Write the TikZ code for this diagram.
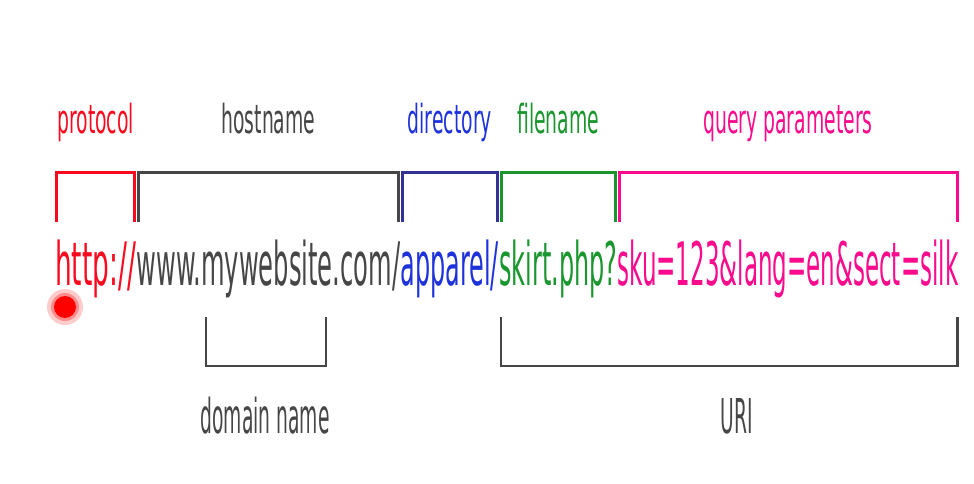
\documentclass[tikz,border=0pt]{standalone}
\usepackage{fontspec}
\usetikzlibrary{positioning}
\newfontfamily\urlfont{DejaVu Sans}[FakeStretch=0.383]
\newfontfamily\protofont{DejaVu Sans}[FakeStretch=0.44]
\newfontfamily\hostfont{DejaVu Sans}[FakeStretch=0.403]
\newfontfamily\pathfont{DejaVu Sans}[FakeStretch=0.398]
\newfontfamily\lblfont{DejaVu Sans}[FakeStretch=0.47]
\newfontfamily\subfont{DejaVu Sans}[FakeStretch=0.39]

\definecolor{protored}{RGB}{250,10,30}
\definecolor{hostgray}{RGB}{70,70,70}
\definecolor{dirblue}{RGB}{30,50,220}
\definecolor{dirnavy}{RGB}{50,50,150}
\definecolor{filegreen}{RGB}{25,150,45}
\definecolor{querypink}{RGB}{250,10,140}

\begin{document}
\begin{tikzpicture}[
    x = 1pt, y = -1pt,
    seg/.style={inner sep=0pt, font=\urlfont\fontsize{60}{60}\selectfont},
    lbl/.style={inner sep=0pt, anchor=base, font=\lblfont\fontsize{40}{40}\selectfont},
    sub/.style={inner sep=0pt, anchor=base, text=hostgray, font=\subfont\fontsize{48}{48}\selectfont},
    brk/.style={line width=3pt},
    under/.style={line width=2.5pt, hostgray}
]
\fill[white] (0,0) rectangle (974,484);
\useasboundingbox (0,0) rectangle (974,484);

% levels
\coordinate (lblbase) at (0,133);
\coordinate (bt) at (0,172);
\coordinate (bf) at (0,222);
\coordinate (ut) at (0,317);
\coordinate (ub) at (0,366);

% 1. THE ADDRESS
\node[seg, anchor=base west, text=protored, font=\protofont\fontsize{60}{60}\selectfont] (proto) at (55,285) {http://};
\node[seg, base right=0pt of proto, text=hostgray, font=\hostfont\fontsize{60}{60}\selectfont] (host) {www.mywebsite.com/};
\node[seg, base right=0pt of host, text=dirblue, font=\pathfont\fontsize{60}{60}\selectfont] (dir) {apparel/};
\node[seg, base right=0pt of dir, text=filegreen, font=\pathfont\fontsize{60}{60}\selectfont] (file) {skirt.php?};
\node[seg, base right=0pt of file, text=querypink] (query) {sku=123\&lang=en\&sect=silk};

% 2. PARTS ABOVE
\node[lbl, text=protored] (protoLbl) at (proto |- lblbase) {protocol};
\node[lbl, text=hostgray] (hostLbl) at (host |- lblbase) {hostname};
\node[lbl, text=dirblue] (dirLbl) at (dir |- lblbase) {directory};
\node[lbl, text=filegreen] (fileLbl) at (file |- lblbase) {filename};
\node[lbl, text=querypink] (queryLbl) at (query |- lblbase) {query parameters};

\draw[brk, protored] ([xshift=1pt]proto.west |- bf) |- ([xshift=-2pt]proto.east |- bt) -- ([xshift=-2pt]proto.east |- bf);
\draw[brk, hostgray] ([xshift=2pt]host.west |- bf) |- ([xshift=-2pt]host.east |- bt) -- ([xshift=-2pt]host.east |- bf);
\draw[brk, dirnavy] ([xshift=2pt]dir.west |- bf) |- ([xshift=-2pt]dir.east |- bt) -- ([xshift=-2pt]dir.east |- bf);
\draw[brk, filegreen] ([xshift=2pt]file.west |- bf) |- ([xshift=-2pt]file.east |- bt) -- ([xshift=-2pt]file.east |- bf);
\draw[brk, querypink] ([xshift=2pt]query.west |- bf) |- ([xshift=-1pt]query.east |- bt) -- ([xshift=-1pt]query.east |- bf);

% 3. PARTS BELOW
\coordinate (domL) at (206,317);
\coordinate (domR) at (326,317);
\draw[under] (domL) |- (domR |- ub) -- (domR);
\node[sub] (domLbl) at (265,433) {domain name};

\draw[under] ([xshift=2pt]file.west |- ut) |- ([xshift=-1pt]query.east |- ub) -- ([xshift=-1pt]query.east |- ut);
\node[sub] (uriLbl) at (737,433) {URI};

% cursor
\fill[red!20] (65,307) circle (18pt);
\fill[red!45] (65,307) circle (14pt);
\node[circle, fill=red, inner sep=0pt, minimum size=22pt] (cursor) at (65,307) {};
\end{tikzpicture}
\end{document}
